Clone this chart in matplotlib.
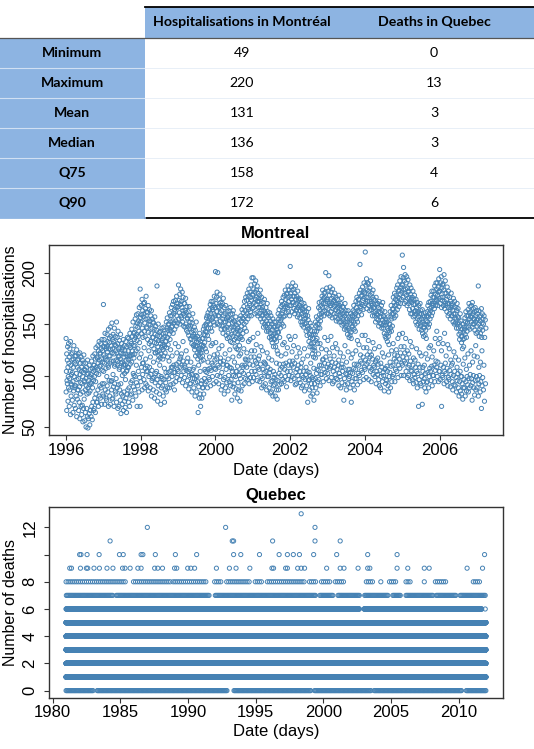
import numpy as np
import matplotlib.pyplot as plt
from matplotlib.patches import Rectangle

plt.rcParams['font.family'] = ['Liberation Sans', 'DejaVu Sans']

# ---------------- summary table ----------------
stat_names = ["Minimum", "Maximum", "Mean", "Median", "Q75", "Q90"]
col_names = ["Hospitalisations in Montréal", "Deaths in Quebec"]
mtl_stats = [49, 220, 131, 136, 158, 172]
qc_stats = [0, 13, 3, 3, 4, 6]

# ---------------- Montreal hospitalisations (read off the cloud) ----------------
# one inner list per month: weekday values (upper cloud) / weekend values (lower cloud)
hi_1996 = [[136,104,121,95,115,128,108,99,131,112], [118,97,126,104,133,110,92,121,101,115],
           [103,122,94,116,108,129,99,113,88,119], [111,90,119,102,125,96,108,115,86,121],
           [97,116,106,89,122,101,112,93,118,104], [108,92,115,99,84,112,103,120,95,106],
           [94,105,86,112,97,90,108,82,101,115], [88,102,95,83,110,91,99,85,106,93],
           [101,92,114,98,107,88,119,104,95,110], [110,99,121,105,116,94,127,108,102,118],
           [117,106,129,112,124,101,133,115,109,122], [121,131,110,126,116,135,105,124,113,128]]
lo_1996 = [[84,66,92,75,88], [70,86,62,80,91], [76,64,85,71,90], [68,80,60,77,86], [66,74,58,82,70],
           [62,71,55,68,77], [56,64,50,68,60], [49,58,63,52,66], [60,70,57,74,66], [68,78,64,82,74],
           [74,86,70,80,90], [78,88,72,92,82]]

hi_1997 = [[169,120,135,112,128,141,118,131,107,126], [128,115,140,123,133,110,145,126,119,136],
           [132,119,147,125,138,114,129,151,122,135], [126,140,114,133,121,146,130,111,138,124],
           [129,115,152,122,137,110,131,143,118,126], [119,134,108,127,116,140,122,112,131,125],
           [113,127,105,121,135,110,118,129,102,124], [121,110,133,115,104,128,119,137,108,116],
           [124,136,115,129,119,141,111,127,133,120], [131,145,124,138,120,152,129,141,117,135],
           [142,129,155,137,148,124,159,140,134,151], [147,160,138,153,143,166,132,150,184,156]]
lo_1997 = [[80,92,72,86,78], [76,90,84,70,95], [80,72,94,86,77], [78,89,70,92,84], [82,74,88,68,91],
           [70,86,76,63,82], [72,80,66,84,75], [69,78,64,82,86], [74,88,70,81,93], [82,95,76,89,100],
           [86,99,80,93,70], [90,104,84,98,70]]

hi_1998 = [[152,168,141,159,174,146,163,137,157,170], [160,143,171,151,138,165,155,177,147,162],
           [146,161,135,155,168,142,150,131,164,153], [149,133,158,141,163,129,146,155,137,152],
           [137,151,126,145,132,157,140,122,148,135], [131,144,187,123,139,128,150,134,119,142],
           [124,138,117,131,143,121,134,127,146,129], [136,125,141,119,147,130,128,138,122,133],
           [141,133,152,127,146,156,137,144,130,150], [150,140,161,145,135,158,152,143,166,147],
           [158,148,169,153,141,172,160,151,164,145], [162,173,153,167,148,177,158,166,151,170]]
lo_1998 = [[94,108,86,101,112], [96,88,107,92,104], [90,104,85,99,108], [88,101,80,95,97],
           [86,98,78,93,102], [84,96,75,90,100], [82,93,72,88,97], [90,80,96,74,86], [93,84,99,88,103],
           [97,88,104,91,108], [99,108,92,103,86], [103,94,111,98,106]]

hi_1999 = [[167,188,155,173,161,179,150,169,184,158], [172,156,166,181,152,163,176,160,148,170],
           [158,170,147,163,175,150,161,144,167,156], [155,142,162,148,139,158,167,146,152,136],
           [148,135,155,142,131,151,138,160,144,129], [140,130,147,125,138,144,128,136,152,133],
           [129,122,138,116,132,126,120,135,124,141], [126,118,133,122,114,130,125,136,119,128],
           [136,145,129,140,148,132,139,126,143,150], [149,156,142,158,139,152,161,146,135,155],
           [157,164,150,169,146,160,172,154,143,166], [164,156,172,152,168,160,177,149,166,158]]
lo_1999 = [[104,113,96,108,118], [100,110,93,114,104], [98,108,90,105,113], [95,104,87,100,92],
           [92,101,84,97,106], [88,97,80,93,100], [84,94,64,89,78], [82,70,92,78,88], [88,82,97,92,104],
           [94,103,88,106,98], [96,107,90,105,112], [99,110,92,107,115]]

hi_2000 = [[201,170,155,176,162,181,150,200,167,158], [158,174,166,149,179,161,153,171,145,168],
           [163,148,170,155,141,175,158,152,166,146], [145,160,152,168,139,155,147,162,136,157],
           [156,141,150,163,137,154,146,166,133,159], [140,155,147,132,160,151,138,163,144,153],
           [147,135,152,128,142,157,137,149,126,144], [133,146,140,125,151,136,143,129,155,138],
           [144,158,137,153,148,164,135,156,141,161], [155,167,150,172,146,163,158,176,152,143],
           [173,160,180,166,155,177,164,184,158,170], [168,181,162,176,188,158,173,195,165,179]]
lo_2000 = [[106,94,116,100,110], [92,108,99,113,86], [103,90,111,96,82], [98,88,106,93,110],
           [85,100,94,108,90], [96,76,104,89,100], [92,82,99,87,104], [78,93,86,100,75],
           [97,85,104,90,108], [102,92,110,97,115], [108,96,115,101,92], [111,98,118,104,94]]

hi_2001 = [[178,195,166,184,171,189,160,181,174,192], [169,183,176,161,187,172,158,180,166,175],
           [172,160,178,166,183,155,170,164,176,158], [152,166,159,171,147,163,155,174,150,161],
           [160,148,166,153,143,158,170,150,162,145], [143,156,150,137,161,147,153,141,158,135],
           [138,150,132,145,155,140,128,147,136,152], [135,147,141,128,152,138,133,145,124,142],
           [148,160,142,155,164,150,137,158,146,153], [167,155,172,160,150,169,163,176,157,148],
           [165,178,170,158,183,167,174,161,179,169], [180,166,176,187,162,172,183,168,158,177]]
lo_2001 = [[110,98,118,104,114], [101,112,95,108,116], [106,94,111,99,88], [97,106,90,103,112],
           [92,104,86,99,108], [99,88,103,83,94], [84,95,80,90,98], [91,80,96,86,77], [95,86,102,91,106],
           [100,92,108,96,111], [94,106,99,112,89], [104,96,110,100,114]]

hi_2002 = [[206,180,168,186,174,162,183,171,190,177], [171,184,165,177,160,180,169,187,163,174],
           [164,177,170,157,182,166,173,159,175,168], [168,156,163,174,152,166,160,171,149,164],
           [152,165,158,147,170,155,162,150,167,159], [156,143,151,162,139,148,158,145,154,165],
           [133,146,140,128,151,137,144,131,148,139], [128,121,136,125,140,118,132,127,143,124],
           [140,152,134,148,157,143,136,150,131,146], [155,166,150,171,159,146,164,153,168,157],
           [172,160,177,166,183,162,170,175,158,180], [176,163,181,170,200,166,174,185,160,172]]
lo_2002 = [[104,95,110,99,114], [108,97,112,91,103], [92,106,100,110,96], [104,93,108,88,100],
           [90,98,104,85,96], [101,90,104,74,95], [96,86,100,80,92], [88,82,96,76,92], [97,88,102,83,94],
           [105,96,110,90,101], [110,101,115,94,106], [112,103,118,97,108]]

hi_2003 = [[174,165,182,160,197,170,178,158,186,168], [168,181,162,175,170,156,184,165,177,172],
           [173,160,167,180,157,171,164,176,153,169], [160,174,166,155,170,162,178,152,168,159],
           [165,157,170,152,163,175,149,160,167,156], [154,166,150,161,145,158,170,152,147,163],
           [149,160,144,155,140,152,163,146,157,137], [144,155,139,151,160,142,136,153,147,158],
           [158,148,163,152,168,145,157,162,150,143], [160,172,166,155,176,163,152,170,158,174],
           [174,162,180,170,208,167,183,165,177,159], [178,169,186,173,164,182,175,190,168,180]]
lo_2003 = [[102,111,95,107,116], [109,98,113,92,104], [94,108,101,112,97], [106,96,110,90,102],
           [99,88,108,93,104], [108,76,97,91,102], [86,101,92,106,97], [99,88,103,74,94],
           [102,91,107,86,97], [106,97,111,91,102], [110,100,94,114,105], [112,103,118,96,108]]

hi_2004 = [[181,220,170,188,176,194,165,183,172,190], [176,189,168,182,172,163,185,178,192,170],
           [172,164,180,168,158,176,183,166,174,161], [166,158,173,162,152,169,176,160,155,170],
           [159,170,154,166,148,162,172,157,165,151], [161,150,157,168,146,163,154,171,149,158],
           [146,157,141,152,162,138,149,155,136,151], [140,152,133,146,157,138,144,130,150,142],
           [150,162,146,157,168,143,155,160,148,164], [165,176,160,171,156,180,168,162,174,158],
           [178,169,185,173,164,188,176,171,182,167], [183,175,192,179,170,186,196,174,181,188]]
lo_2004 = [[106,115,98,111,120], [113,96,108,118,104], [94,106,116,101,110], [108,99,113,92,104],
           [101,111,96,90,105], [88,99,108,94,103], [100,85,106,92,96], [95,104,90,84,99],
           [103,88,109,94,99], [110,101,116,94,106], [114,104,119,98,110], [116,107,122,100,112]]

hi_2005 = [[217,188,176,195,205,183,170,192,180,198], [184,172,190,178,196,168,185,175,193,181],
           [170,182,176,164,188,172,179,160,185,174], [171,160,176,165,182,157,169,174,162,178],
           [158,169,163,152,174,160,166,149,171,155], [162,150,157,168,145,160,154,170,148,163],
           [150,160,144,155,164,141,152,158,138,147], [146,157,150,139,161,144,153,136,158,149],
           [162,152,168,157,147,171,160,150,165,155], [172,163,178,166,158,182,170,161,176,168],
           [170,182,176,165,187,172,179,168,190,174], [184,173,190,178,168,186,181,194,175,182]]
lo_2005 = [[110,118,100,114,122], [112,104,117,98,108], [100,110,95,114,105], [104,96,110,92,101],
           [98,108,93,104,88], [102,70,96,108,92], [90,99,72,104,94], [97,88,102,84,93],
           [94,103,88,99,107], [104,95,109,90,100], [100,110,94,105,114], [108,99,113,94,104]]

hi_2006 = [[203,182,170,190,176,196,166,185,173,188], [176,189,168,183,198,172,165,180,192,170],
           [168,180,174,162,186,170,177,158,182,166], [170,160,176,164,155,172,166,180,158,168],
           [158,170,163,152,175,160,167,150,172,156], [160,151,166,155,146,163,170,150,157,165],
           [146,156,140,151,135,148,160,142,153,138], [132,145,138,126,150,135,142,128,147,136],
           [145,156,140,152,162,147,137,158,143,151], [152,164,158,147,170,155,161,145,167,157],
           [162,152,168,157,147,171,160,150,165,155], [150,162,155,144,166,152,158,141,163,154]]
lo_2006 = [[104,96,110,70,100], [98,108,92,104,112], [102,94,107,90,98], [96,105,89,101,110],
           [94,86,100,91,104], [90,98,84,95,102], [88,80,94,85,99], [82,92,77,88,96], [88,80,94,85,99],
           [91,84,97,88,101], [90,97,76,93,100], [88,81,95,86,99]]

hi_2007 = [[148,160,142,155,187,150,163,138,157,145], [153,141,158,147,165,137,151,160,144,155],
           [150,158,137,154,146]]
lo_2007 = [[88,96,80,92,100], [84,94,68,90,98], [86,75,92]]

# scattered days that sit between the two clouds (holidays, bridge days), two per month
mid_1996 = []
mid_1997 = [104,116,99,108,112,95,101,109,97,114,106,92,100,111,96,105,108,119,113,102,121,110,126,117]
mid_1998 = [121,112,127,116,109,124,118,105,113,122,104,115,110,99,116,107,103,118,114,125,119,110,131,122]
mid_1999 = [128,116,121,133,110,124,117,106,113,101,108,119,99,110,104,95,115,106,123,113,118,129,131,120]
mid_2000 = [132,121,126,117,129,114,121,110,116,125,107,118,113,104,109,119,121,110,126,116,122,133,135,124]
mid_2001 = [137,124,130,141,119,128,124,113,111,122,117,106,115,104,101,112,121,111,119,130,132,121,127,138]
mid_2002 = [135,123,129,138,118,127,122,112,116,126,108,119,103,112,98,107,117,106,121,131,126,116,137,125]
mid_2003 = [134,122,138,127,119,131,126,115,122,111,118,129,113,123,106,117,121,111,124,134,130,120,139,127]
mid_2004 = [139,127,134,123,120,132,126,115,117,128,112,122,118,107,109,120,113,124,131,120,125,136,140,128]
mid_2005 = [141,128,136,124,121,133,128,117,115,126,111,122,119,108,110,121,116,127,129,118,124,136,143,131]
mid_2006 = [136,124,131,141,119,130,126,115,112,123,118,108,115,104,99,111,117,106,121,110,124,113,119,129]
mid_2007 = [118,108,113,124,110]

mtl_years = list(range(1996, 2008))
mtl_hi = [hi_1996, hi_1997, hi_1998, hi_1999, hi_2000, hi_2001, hi_2002, hi_2003, hi_2004, hi_2005, hi_2006, hi_2007]
mtl_lo = [lo_1996, lo_1997, lo_1998, lo_1999, lo_2000, lo_2001, lo_2002, lo_2003, lo_2004, lo_2005, lo_2006, lo_2007]
mtl_mid = [mid_1996, mid_1997, mid_1998, mid_1999, mid_2000, mid_2001, mid_2002, mid_2003, mid_2004, mid_2005,
           mid_2006, mid_2007]

# ---------------- Quebec daily deaths (read as runs along each count level) ----------------
qc_start, qc_end = 1981.0, 2012.0
qc_full_levels = [1, 2, 3, 4, 5]          # present on (almost) every day
deaths0_runs = [(1981.0, 1983.0), (1983.3, 1992.9), (1993.4, 1999.1), (1999.35, 2003.55),
                (2003.75, 2010.2), (2010.55, 2012.0)]
deaths6_runs = [(1981.0, 2002.66), (2003.0, 2011.7)]
deaths7_runs = [(1981.02, 1984.46), (1984.71, 1991.59), (1992.02, 1999.48), (1999.74, 2000.7),
                (2001.08, 2002.66), (2003.05, 2004.78), (2005.13, 2005.72), (2006.1, 2008.14),
                (2008.34, 2009.79), (2010.1, 2012.0)]
deaths8_runs = [(1981.0, 1985.47), (1985.98, 1988.73), (1988.91, 1991.33), (1991.97, 1992.43),
                (1992.86, 1994.59), (1994.97, 1995.53), (1995.86, 1998.59), (1998.97, 1999.43),
                (1999.86, 2000.55), (2000.88, 2001.52), (2003.17, 2003.68), (2004.88, 2005.34),
                (2006.1, 2006.53), (2008.27, 2009.16), (2011.07, 2011.58)]
# typical gap in days between points inside a run
run_gap_days = {0: 22, 6: 6, 7: 25, 8: 55}

deaths6_days = [2011.95]
deaths8_days = [2004.24, 2007.45]
deaths9_days = [1981.27, 1981.4, 1982.06, 1982.5, 1982.6, 1983.06, 1983.46, 1984.02, 1984.46, 1985.17,
                1985.35, 1985.73, 1986.3, 1986.54, 1987.54, 1987.77, 1988.12, 1989.01, 1989.17, 1989.98,
                1990.21, 1990.49, 1992.1, 1993.06, 1993.55, 1994.57, 1996.2, 1996.32, 1997.21, 1997.34,
                1998.1, 1998.36, 1998.61, 2000.24, 2001.24, 2001.52, 2002.56, 2003.27, 2003.43, 2005.44,
                2006.23, 2007.45, 2007.81, 2010.61, 2011.75]
deaths10_days = [1982.0, 1982.1, 1982.55, 1983.44, 1984.94, 1985.22, 1986.54, 1986.67, 1987.59, 1989.07,
                 1990.64, 1993.37, 1993.9, 1995.28, 1996.73, 1997.34, 1997.78, 1998.23, 1999.28, 2000.98,
                 2003.27, 2005.44, 2011.9]
deaths11_days = [1984.25, 1993.27, 1993.37, 1996.25, 1999.38, 2001.24]
deaths12_days = [1987.0, 1992.78, 1999.38]
deaths13_days = [1998.36]


def month_points(year, months, shift):
    xs, ys = [], []
    for m, vals in enumerate(months):
        n = len(vals)
        for i, v in enumerate(vals):
            xs.append(year + (m + (i + shift) / n) / 12.0)
            ys.append(v)
    return xs, ys


def run_points(runs, gap_days):
    xs = []
    for a, b in runs:
        xs.extend(np.arange(a, b, gap_days / 365.25))
    return xs


def r_pad(lo, hi):
    d = (hi - lo) * 0.04
    return lo - d, hi + d


def r_style(ax):
    for s in ax.spines.values():
        s.set_color('#333333')
        s.set_linewidth(1.0)
    ax.tick_params(direction='out', length=3.6, width=0.8, color='#333333', labelsize=12)
    ax.tick_params(axis='x', pad=2)
    ax.tick_params(axis='y', pad=5)
    for lab in ax.get_yticklabels():
        lab.set_rotation(90)
        lab.set_va('center')


pt_color = '#4682B4'
pt_size = 9
pt_lw = 0.7

fig = plt.figure(figsize=(5.34, 7.49), dpi=100)

# ---------- table (pixel coordinates) ----------
tab = fig.add_axes([0, 0, 1, 1])
tab.set_xlim(0, 534)
tab.set_ylim(749, 0)
tab.axis('off')
blue = '#8DB4E2'
row_h = 30
top_row = 38
tab.add_patch(Rectangle((145, 7), 389, 31, color=blue, lw=0))
tab.add_patch(Rectangle((0, top_row), 145, row_h * len(stat_names), color=blue, lw=0))
for i in range(1, len(stat_names)):
    y = top_row + i * row_h
    tab.plot([0, 145], [y, y], color='white', lw=0.8, alpha=0.6)
    tab.plot([145, 534], [y, y], color='#E4ECF6', lw=0.6)
tab.plot([145, 534], [6.5, 6.5], color='black', lw=1.3)
tab.plot([0, 534], [38, 38], color='#555555', lw=0.9)
tab.plot([145, 534], [top_row + row_h * 6, top_row + row_h * 6], color='black', lw=1.3)
tab.plot([0, 145], [top_row + row_h * 6, top_row + row_h * 6], color=blue, lw=1.3)

col_x = [242, 434]
tfont = dict(family=['Lato', 'DejaVu Sans'], fontsize=10.2)
for cx, name in zip(col_x, col_names):
    tab.text(cx, 22.5, name, ha='center', va='center', fontweight='bold', **tfont)
for i, name in enumerate(stat_names):
    yc = top_row + row_h * (i + 0.5)
    tab.text(72, yc, name, ha='center', va='center', fontweight='bold', **tfont)
    tab.text(col_x[0], yc, str(mtl_stats[i]), ha='center', va='center', **tfont)
    tab.text(col_x[1], yc, str(qc_stats[i]), ha='center', va='center', **tfont)

# ---------- Montreal ----------
ax1 = fig.add_axes([0.0923, 0.4192, 0.8491, 0.2537])
mx, my = [], []
for yr, his, los, mids in zip(mtl_years, mtl_hi, mtl_lo, mtl_mid):
    x, y = month_points(yr, his, 0.5)
    mx += x
    my += y
    x, y = month_points(yr, los, 0.3)
    mx += x
    my += y
    pairs = [mids[k:k + 2] for k in range(0, len(mids), 2)]
    x, y = month_points(yr, pairs, 0.25)
    mx += x
    my += y
ax1.scatter(mx, my, s=pt_size, facecolors='none', edgecolors=pt_color, linewidths=pt_lw)
ax1.set_xlim(*r_pad(min(mx), max(mx)))
ax1.set_ylim(*r_pad(min(my), max(my)))
ax1.set_xticks([1996, 1998, 2000, 2002, 2004, 2006])
ax1.set_yticks([50, 100, 150, 200])
r_style(ax1)
ax1.set_title('Montreal', fontweight='bold', fontsize=12, pad=5)

# ---------- Quebec ----------
ax2 = fig.add_axes([0.0923, 0.0685, 0.8491, 0.2550])
qx, qy = [], []
daily = np.arange(qc_start, qc_end, 1 / 365.25)
for lev in qc_full_levels:
    qx += list(daily)
    qy += [lev] * len(daily)
for lev, runs in [(0, deaths0_runs), (6, deaths6_runs), (7, deaths7_runs), (8, deaths8_runs)]:
    xs = run_points(runs, run_gap_days[lev])
    qx += list(xs)
    qy += [lev] * len(xs)
for lev, days in [(6, deaths6_days), (8, deaths8_days), (9, deaths9_days), (10, deaths10_days),
                  (11, deaths11_days), (12, deaths12_days), (13, deaths13_days)]:
    qx += days
    qy += [lev] * len(days)
ax2.scatter(qx, qy, s=pt_size, facecolors='none', edgecolors=pt_color, linewidths=pt_lw)
ax2.set_xlim(*r_pad(qc_start, qc_end))
ax2.set_ylim(*r_pad(min(qy), max(qy)))
ax2.set_xticks([1980, 1985, 1990, 1995, 2000, 2005, 2010])
ax2.set_yticks([0, 2, 4, 6, 8, 10, 12])
ax2.set_yticklabels(['0', '2', '4', '6', '8', '', '12'])
r_style(ax2)
ax2.set_title('Quebec', fontweight='bold', fontsize=12, pad=5)

# axis labels placed like R's margin text
xc = 0.5169
fig.text(xc, 1 - 470 / 749, 'Date (days)', ha='center', va='center', fontsize=12)
fig.text(xc, 1 - 731.5 / 749, 'Date (days)', ha='center', va='center', fontsize=12)
fig.text(11 / 534, 1 - 340 / 749, 'Number of hospitalisations', rotation=90, ha='center', va='center', fontsize=11.5)
fig.text(11 / 534, 1 - 602 / 749, 'Number of deaths', rotation=90, ha='center', va='center', fontsize=11.5)

fig.savefig('out.png', dpi=100)
